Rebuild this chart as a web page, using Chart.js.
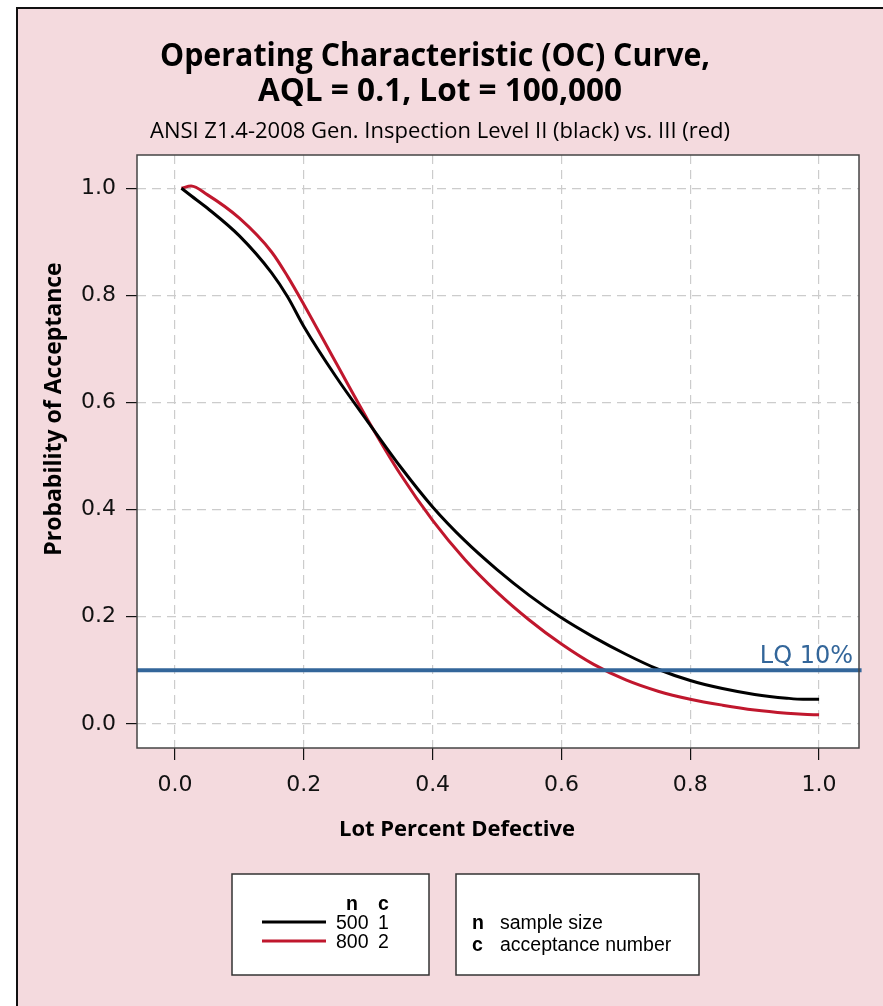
<!DOCTYPE html>
<html lang="en">
  <head>
    <meta charset="UTF-8" />
    <title>Operating Characteristic (OC) Curve</title>
    <script src="https://cdn.jsdelivr.net/npm/chart.js"></script>
    <style>
      html, body { margin: 0; padding: 0; background: #fff; }
      #wrap { width: 883px; height: 1006px; }
    </style>
  </head>
  <body>
    <div id="wrap"><canvas id="ocChart" width="883" height="1006"></canvas></div>

    <script>
      // Lot percent defective (x) and probability of acceptance
      const lotDefective = [0.01, 0.025, 0.05, 0.1, 0.15, 0.175, 0.2, 0.25, 0.3, 0.35, 0.4, 0.45, 0.5,
        0.55, 0.6, 0.65, 0.7, 0.75, 0.8, 0.85, 0.9, 0.95, 0.975, 1.0];
      const paLevelII = [1.0, 0.986, 0.963, 0.911, 0.842, 0.797, 0.742, 0.648, 0.563, 0.480, 0.405, 0.342, 0.288,
        0.240, 0.198, 0.162, 0.130, 0.102, 0.081, 0.066, 0.055, 0.048, 0.046, 0.046];
      const paLevelIII = [1.0, 1.004, 0.988, 0.944, 0.881, 0.835, 0.783, 0.674, 0.566, 0.466, 0.380, 0.307, 0.246,
        0.194, 0.149, 0.111, 0.082, 0.061, 0.046, 0.035, 0.026, 0.020, 0.018, 0.017];

      const lqLevel = 0.1;
      const lqLabel = "LQ 10%";

      const xTicks = [0.0, 0.2, 0.4, 0.6, 0.8, 1.0];
      const yTicks = [0.0, 0.2, 0.4, 0.6, 0.8, 1.0];

      const sampleSizes = [500, 800];
      const acceptNumbers = [1, 2];
      const seriesColors = ["#000000", "#c0172d"];
      const lqColor = "#33669a";

      const titleLines = ["Operating Characteristic (OC) Curve,", "AQL = 0.1, Lot = 100,000"];
      const subTitle = "ANSI Z1.4-2008 Gen. Inspection Level II (black) vs. III (red)";
      const xTitle = "Lot Percent Defective";
      const yTitle = "Probability of Acceptance";

      const xMin = -0.059, xMax = 1.062;
      const yMin = -0.045, yMax = 1.062;

      const toPoints = (ys) => lotDefective.map((x, i) => ({ x: x, y: ys[i] }));

      const pageDecor = {
        id: "pageDecor",
        beforeDraw(chart) {
          const ctx = chart.ctx;
          const a = chart.chartArea;
          ctx.save();
          ctx.fillStyle = "#ffffff";
          ctx.fillRect(0, 0, chart.width, chart.height);
          ctx.fillStyle = "#f4dade";
          ctx.fillRect(17, 8, chart.width - 17, chart.height - 8);
          ctx.strokeStyle = "#111";
          ctx.lineWidth = 2;
          ctx.beginPath();
          ctx.moveTo(17, chart.height);
          ctx.lineTo(17, 8);
          ctx.lineTo(chart.width, 8);
          ctx.stroke();
          ctx.fillStyle = "#ffffff";
          ctx.fillRect(a.left, a.top, a.right - a.left, a.bottom - a.top);
          ctx.restore();
        },
        afterDraw(chart) {
          const ctx = chart.ctx;
          const a = chart.chartArea;
          const ys = chart.scales.y;
          ctx.save();

          // plot box
          ctx.strokeStyle = "#444";
          ctx.lineWidth = 1.5;
          ctx.strokeRect(a.left, a.top, a.right - a.left, a.bottom - a.top);

          // titles
          ctx.fillStyle = "#000";
          ctx.textAlign = "center";
          ctx.textBaseline = "alphabetic";
          ctx.font = "bold 33px 'Open Sans'";
          ctx.fillText(titleLines[0], 435, 66, 550);
          ctx.fillText(titleLines[1], 440, 101, 364);
          ctx.font = "22px 'Open Sans'";
          ctx.fillText(subTitle, 440, 138, 595);

          // axis titles
          ctx.font = "bold 22px 'Open Sans'";
          ctx.fillText(xTitle, 457, 836, 248);
          ctx.save();
          ctx.translate(61, 409);
          ctx.rotate(-Math.PI / 2);
          ctx.font = "bold 23px 'Open Sans'";
          ctx.fillText(yTitle, 0, 0, 294);
          ctx.restore();

          // LQ label
          ctx.fillStyle = lqColor;
          ctx.textAlign = "right";
          ctx.font = "24px 'DejaVu Sans'";
          ctx.fillText(lqLabel, 853, ys.getPixelForValue(lqLevel) - 7);

          // legend boxes
          ctx.fillStyle = "#fff";
          ctx.strokeStyle = "#333";
          ctx.lineWidth = 1.5;
          ctx.fillRect(232, 874, 197, 101);
          ctx.strokeRect(232, 874, 197, 101);
          ctx.fillRect(456, 874, 243, 101);
          ctx.strokeRect(456, 874, 243, 101);

          ctx.fillStyle = "#000";
          ctx.textAlign = "left";
          ctx.font = "bold 19.5px 'Liberation Sans'";
          ctx.fillText("n", 346, 910);
          ctx.fillText("c", 378, 910);
          ctx.font = "19.5px 'Liberation Sans'";
          sampleSizes.forEach((n, i) => {
            const yy = 929 + i * 19;
            ctx.strokeStyle = seriesColors[i];
            ctx.lineWidth = 3;
            ctx.beginPath();
            ctx.moveTo(262, yy - 7);
            ctx.lineTo(326, yy - 7);
            ctx.stroke();
            ctx.fillText(String(n), 336, yy);
            ctx.fillText(String(acceptNumbers[i]), 378, yy);
          });

          ctx.font = "bold 19.5px 'Liberation Sans'";
          ctx.fillText("n", 472, 929);
          ctx.fillText("c", 472, 951);
          ctx.font = "19.5px 'Liberation Sans'";
          ctx.fillText("sample size", 500, 929);
          ctx.fillText("acceptance number", 500, 951);
          ctx.restore();
        },
      };

      const ctx = document.getElementById("ocChart").getContext("2d");
      new Chart(ctx, {
        type: "line",
        data: {
          datasets: [
            {
              label: "LQ",
              data: [{ x: xMin, y: lqLevel }, { x: 1.066, y: lqLevel }],
              borderColor: lqColor,
              borderWidth: 4,
              pointRadius: 0,
              clip: false,
            },
            {
              label: "n=500 c=1",
              data: toPoints(paLevelII),
              borderColor: seriesColors[0],
              borderWidth: 3,
              pointRadius: 0,
              cubicInterpolationMode: "monotone",
            },
            {
              label: "n=800 c=2",
              data: toPoints(paLevelIII),
              borderColor: seriesColors[1],
              borderWidth: 3,
              pointRadius: 0,
              cubicInterpolationMode: "monotone",
            },
          ],
        },
        options: {
          responsive: false,
          animation: false,
          layout: { padding: { left: 0, right: 24, top: 155, bottom: 0 } },
          plugins: {
            legend: { display: false },
            tooltip: { enabled: false },
          },
          scales: {
            x: {
              type: "linear",
              min: xMin,
              max: xMax,
              afterFit: (s) => { s.height = 258; },
              afterBuildTicks: (s) => { s.ticks = xTicks.map((v) => ({ value: v })); },
              border: { display: false, dash: [9, 6] },
              grid: { color: "#cccccc", lineWidth: 1.2, tickColor: "#111", tickLength: 12, tickBorderDash: [] },
              ticks: {
                color: "#111",
                padding: 12,
                maxRotation: 0,
                autoSkip: false,
                font: { family: "DejaVu Sans", size: 22 },
                callback: (v) => v.toFixed(1),
              },
            },
            y: {
              min: yMin,
              max: yMax,
              afterFit: (s) => { s.width = 137; },
              afterBuildTicks: (s) => { s.ticks = yTicks.map((v) => ({ value: v })); },
              border: { display: false, dash: [9, 6] },
              grid: { color: "#cccccc", lineWidth: 1.2, tickColor: "#111", tickLength: 11, tickBorderDash: [] },
              ticks: {
                color: "#111",
                padding: 10,
                autoSkip: false,
                font: { family: "DejaVu Sans", size: 22 },
                callback: (v) => v.toFixed(1),
              },
            },
          },
        },
        plugins: [pageDecor],
      });
    </script>
  </body>
</html>
